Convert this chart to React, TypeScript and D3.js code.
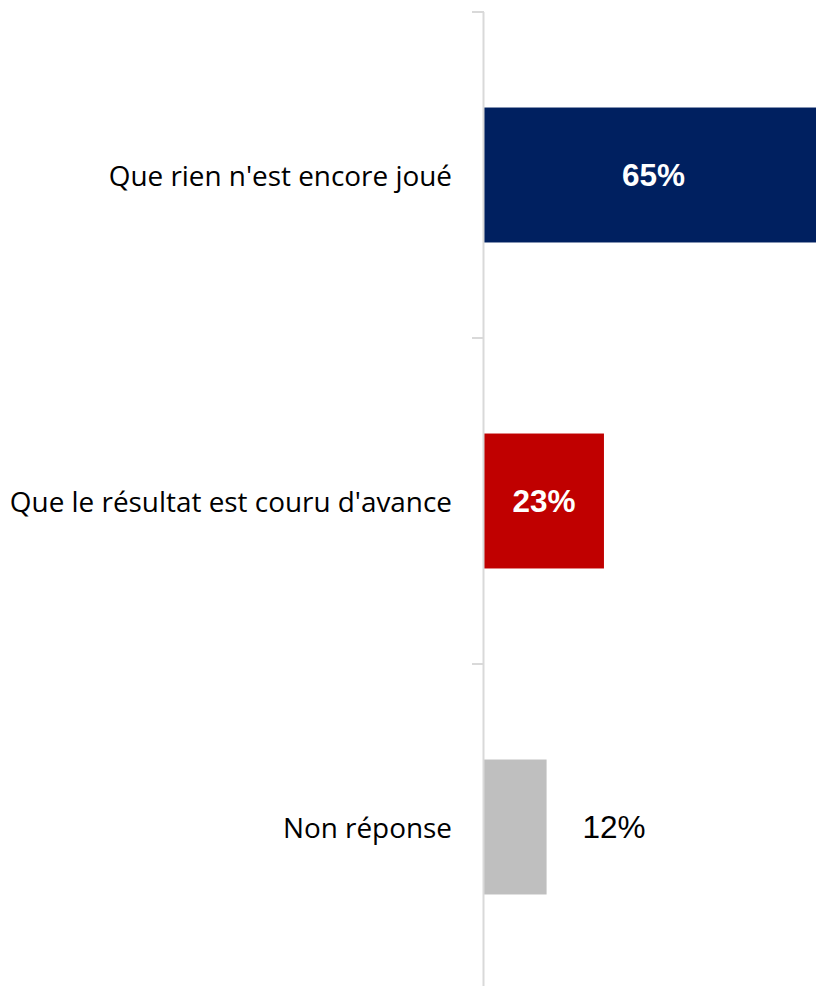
import React, { useRef, useEffect } from 'react';
import * as d3 from 'd3';

const CATEGORIES = ["Que rien n'est encore joué", "Que le résultat est couru d'avance", 'Non réponse'];
const VALUES = [65, 23, 12];
const COLORS = ['#002060', '#c00000', '#bfbfbf'];
const LABEL_INSIDE = [true, true, false];

export default function App() {
  const svgRef = useRef<SVGSVGElement | null>(null);

  useEffect(() => {
    const width = 816;
    const height = 986;
    const axisX = 484;

    d3.select(svgRef.current).selectAll('*').remove();

    const svg = d3
      .select(svgRef.current)
      .attr('width', width)
      .attr('height', height)
      .style('overflow', 'hidden');

    const x = d3.scaleLinear().domain([0, 65]).range([axisX, 823]);

    const y = d3
      .scaleBand()
      .domain(CATEGORIES)
      .range([12, 990])
      .paddingInner(0.586)
      .paddingOuter(0.293);

    const data = CATEGORIES.map((c, i) => ({ cat: c, value: VALUES[i], color: COLORS[i], inside: LABEL_INSIDE[i] }));

    // Bars
    svg
      .selectAll('rect.bar')
      .data(data)
      .join('rect')
      .attr('class', 'bar')
      .attr('x', x(0))
      .attr('y', (d) => y(d.cat)!)
      .attr('width', (d) => x(d.value) - x(0))
      .attr('height', y.bandwidth())
      .attr('fill', (d) => d.color);

    // Axis line + ticks between categories
    const step = y.step();
    const tickYs = [12, 12 + step, 12 + 2 * step];
    svg
      .append('line')
      .attr('x1', axisX - 0.5)
      .attr('x2', axisX - 0.5)
      .attr('y1', 12)
      .attr('y2', height)
      .attr('stroke', '#d9d9d9')
      .attr('stroke-width', 2);
    svg
      .selectAll('line.tick')
      .data(tickYs)
      .join('line')
      .attr('class', 'tick')
      .attr('x1', axisX - 12)
      .attr('x2', axisX)
      .attr('y1', (d) => d)
      .attr('y2', (d) => d)
      .attr('stroke', '#d9d9d9')
      .attr('stroke-width', 2);

    // Category labels
    svg
      .selectAll('text.cat')
      .data(data)
      .join('text')
      .attr('class', 'cat')
      .attr('x', 452)
      .attr('y', (d) => y(d.cat)! + y.bandwidth() / 2)
      .attr('text-anchor', 'end')
      .attr('dominant-baseline', 'central')
      .attr('font-family', '"Open Sans", sans-serif')
      .attr('font-size', 27.9)
      .attr('fill', '#000')
      .text((d) => d.cat);

    // Value labels
    svg
      .selectAll('text.val')
      .data(data)
      .join('text')
      .attr('class', 'val')
      .attr('x', (d) => (d.inside ? (x(0) + x(d.value)) / 2 : x(d.value) + 36))
      .attr('y', (d) => y(d.cat)! + y.bandwidth() / 2)
      .attr('text-anchor', (d) => (d.inside ? 'middle' : 'start'))
      .attr('dominant-baseline', 'central')
      .attr('font-family', '"Liberation Sans", Arial, sans-serif')
      .attr('font-size', 31.5)
      .attr('font-weight', (d) => (d.inside ? 'bold' : 'normal'))
      .attr('fill', (d) => (d.inside ? '#fff' : '#000'))
      .text((d) => `${d.value}%`);
  }, []);

  return (
    <div style={{ position: 'absolute', top: 0, left: 0, width: 816, height: 986, background: '#fff' }}>
      <svg ref={svgRef} style={{ display: 'block' }} />
    </div>
  );
}
